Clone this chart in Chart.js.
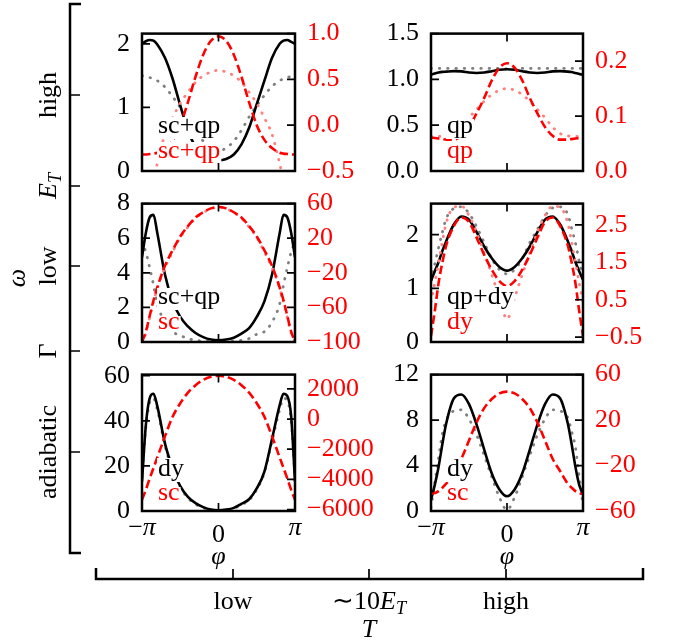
<!DOCTYPE html>
<html><head><meta charset="utf-8">
<script src="https://cdn.jsdelivr.net/npm/chart.js@4.4.1/dist/chart.umd.min.js"></script>
<style>
html,body{margin:0;padding:0;background:#fff;}
#wrap{position:relative;width:680px;height:644px;overflow:hidden;background:#fff;}
#wrap canvas{position:absolute;}
</style></head>
<body><div id="wrap"><canvas id="frame" width="680" height="644" style="left:0;top:0;z-index:0"></canvas></div>
<script>
// ---------- DATA ----------
// phase grid, phi / pi
const U = [-1,-0.95,-0.9,-0.85,-0.8,-0.7,-0.6,-0.5,-0.4,-0.3,-0.2,-0.1,0,0.1,0.2,0.3,0.4,0.5,0.6,0.7,0.8,0.85,0.9,0.95,1];
const xTicks = [-1, 0, 1];            // in units of pi
const xTickLabels = ['−π', '0', 'π'];

// top-left
const tlBlack = [2.0,2.04,2.06,2.05,1.99,1.78,1.45,1.03,0.64,0.38,0.25,0.19,0.17,0.19,0.26,0.42,0.68,1.05,1.42,1.78,2.0,2.05,2.06,2.03,2.0];
const tlGrey  = [1.5,1.49,1.47,1.45,1.42,1.32,1.17,1.0,0.83,0.64,0.47,0.36,0.32,0.36,0.47,0.64,0.85,1.03,1.19,1.33,1.42,1.45,1.47,1.49,1.5];
const tlRed   = [-0.32,-0.32,-0.315,-0.31,-0.3,-0.26,-0.17,0.0,0.25,0.53,0.77,0.92,0.97,0.92,0.77,0.53,0.25,0.0,-0.16,-0.25,-0.3,-0.31,-0.315,-0.32,-0.32];
const tlPink  = [-1.05,-0.95,-0.8,-0.62,-0.42,-0.1,0.08,0.24,0.36,0.47,0.54,0.58,0.6,0.58,0.54,0.47,0.36,0.24,0.08,-0.1,-0.42,-0.62,-0.8,-0.95,-1.05];
// top-right
const trBlack = [1.05,1.065,1.075,1.082,1.085,1.09,1.088,1.075,1.07,1.075,1.09,1.105,1.11,1.105,1.09,1.075,1.07,1.075,1.088,1.09,1.085,1.08,1.07,1.06,1.05];
const trGrey  = [1.12,1.12,1.12,1.12,1.12,1.12,1.12,1.12,1.12,1.12,1.12,1.12,1.115,1.12,1.12,1.12,1.12,1.12,1.12,1.12,1.12,1.12,1.12,1.12,1.12];
const trRed   = [0.061,0.06,0.059,0.058,0.057,0.057,0.064,0.08,0.105,0.133,0.165,0.188,0.196,0.188,0.165,0.133,0.105,0.08,0.064,0.057,0.057,0.058,0.059,0.06,0.061];
const trPink  = [0.063,0.063,0.063,0.063,0.064,0.068,0.08,0.097,0.112,0.127,0.139,0.147,0.15,0.147,0.139,0.127,0.112,0.097,0.08,0.068,0.064,0.063,0.063,0.063,0.063];
// middle-left
const mlBlack = [4.9,6.3,7.2,7.35,6.3,3.9,2.35,1.45,0.9,0.52,0.28,0.14,0.1,0.14,0.25,0.48,0.8,1.45,2.35,3.9,6.3,7.35,7.2,6.3,4.9];
const mlGrey  = [5.8,5.2,4.3,3.3,2.2,1.15,0.6,0.38,0.2,0.1,0.05,0.02,0.01,0.02,0.05,0.1,0.2,0.45,0.6,1.15,2.2,3.3,4.3,5.2,5.8];
const mlRed   = [-100,-88,-70,-52,-37,-12,6,22,34,44,50,54.5,56,54.5,50,44,34,22,6,-12,-37,-52,-70,-88,-100];
const mlPink  = [-101,-90,-72,-54,-38,-14,4,21,33,43,49.5,54,55.5,54,49.5,43,33,21,4,-14,-38,-54,-72,-90,-101];
// middle-right
const mrBlack = [1.14,1.32,1.49,1.7,1.88,2.19,2.34,2.28,2.05,1.78,1.56,1.4,1.33,1.4,1.56,1.78,2.05,2.28,2.34,2.19,1.88,1.7,1.49,1.32,1.16];
const mrGrey  = [1.15,1.45,1.76,2.05,2.3,2.49,2.52,2.4,2.15,1.85,1.55,1.35,1.27,1.35,1.55,1.85,2.1,2.35,2.5,2.52,2.38,2.12,1.85,1.5,1.2];
const mrRed   = [-0.47,0.2,0.95,1.5,1.95,2.47,2.7,2.58,2.16,1.7,1.3,1.0,0.87,1.0,1.3,1.7,2.16,2.58,2.7,2.47,1.95,1.5,0.95,0.2,-0.47];
const mrPink  = [0.44,0.95,1.5,2.05,2.55,2.97,3.0,2.75,2.3,1.75,1.17,0.55,-0.02,0.55,1.17,1.75,2.3,2.75,3.0,2.97,2.55,2.05,1.5,0.95,0.44];
// bottom-left
const blBlack = [13,38,50,52,46.5,30,19,11,6.3,3.5,1.7,0.6,0.3,0.6,1.4,3.2,5.2,10,17.5,32,47,52,51,42,13];
const blGrey  = [15,37,48,50,45,29,18,10.5,5.8,3.0,1.4,0.5,0.2,0.5,1.2,2.8,4.8,9.5,17,31,45,50,49,40,15];
const blRed   = [-5350,-4700,-3950,-3250,-2550,-1150,150,1050,1750,2250,2600,2800,2870,2800,2600,2250,1750,1050,150,-1150,-2550,-3250,-3950,-4700,-5350];
// bottom-right
const brBlack = [1.0,2.3,3.9,5.9,7.7,9.9,10.25,9.4,7.6,5.4,3.3,1.9,1.3,1.9,3.3,5.4,7.6,9.4,10.25,9.9,7.7,5.9,3.9,2.3,1.5];
const brGrey  = [0.3,2.5,4.7,6.8,8.0,8.8,8.9,8.1,6.7,4.9,3.0,1.2,0.1,1.2,3.0,4.9,6.7,8.1,8.9,8.8,8.2,7.0,5.6,3.0,0.5];
const brRed   = [-45,-44.3,-42.5,-39.5,-36,-28,-14,2,18,30.5,38.5,43.5,45,43.5,38.5,30.5,18,2,-14,-25,-36,-39.5,-42.5,-44.3,-45];

// tick values / labels
const tlLeftTicks = [0,1,2],            tlLeftLabels = ['0','1','2'];
const tlRightTicks = [-0.5,0,0.5,1.0],  tlRightLabels = ['−0.5','0.0','0.5','1.0'];
const trLeftTicks = [0,0.5,1,1.5],      trLeftLabels = ['0.0','0.5','1.0','1.5'];
const trRightTicks = [0,0.1,0.2],       trRightLabels = ['0.0','0.1','0.2'];
const mlLeftTicks = [0,2,4,6,8],        mlLeftLabels = ['0','2','4','6','8'];
const mlRightTicks = [-100,-60,-20,20,60], mlRightLabels = ['−100','−60','−20','20','60'];
const mrLeftTicks = [0,1,2],            mrLeftLabels = ['0','1','2'];
const mrRightTicks = [-0.5,0.5,1.5,2.5], mrRightLabels = ['−0.5','0.5','1.5','2.5'];
const blLeftTicks = [0,20,40,60],       blLeftLabels = ['0','20','40','60'];
const blRightTicks = [-6000,-4000,-2000,0,2000], blRightLabels = ['−6000','−4000','−2000','0','2000'];
const brLeftTicks = [0,4,8,12],         brLeftLabels = ['0','4','8','12'];
const brRightTicks = [-60,-20,20,60],   brRightLabels = ['−60','−20','20','60'];

// outer axes labels
const rowLabels = ['high','E_T','low','Γ','adiabatic'];
const colLabels = ['low','∼10E_T','high'];
const outerYLabel = 'ω';
const outerXLabel = 'T';
const phiLabel = 'φ';

// ---------- LAYOUT / STYLE ----------
const FAM = '"Liberation Serif","Times New Roman",serif';
const FS = 26;
const font = (s, it) => (it ? 'italic ' : '') + s + 'px ' + FAM;
const TICK = 8;
const ML = 95, MR = 100, MT = 22, MB = 62;

const panels = [
  {left:142, top:28,  w:153, h:143, yr:[0,2.16],  y2r:[-0.5,1.0], yt:tlLeftTicks, yl:tlLeftLabels, y2t:tlRightTicks, y2l:tlRightLabels,
   s:{black:tlBlack, grey:tlGrey, red:tlRed, pink:tlPink}, txt:['sc+qp','sc+qp'], off:[38,13], bottom:false},
  {left:431, top:28,  w:152, h:143, yr:[0,1.5],   y2r:[0,0.25],   yt:trLeftTicks, yl:trLeftLabels, y2t:trRightTicks, y2l:trRightLabels,
   s:{black:trBlack, grey:trGrey, red:trRed, pink:trPink}, txt:['qp','qp'], off:[38,13], bottom:false},
  {left:142, top:198, w:153, h:144, yr:[0,8],     y2r:[-100,60],  yt:mlLeftTicks, yl:mlLeftLabels, y2t:mlRightTicks, y2l:mlRightLabels,
   s:{black:mlBlack, grey:mlGrey, red:mlRed, pink:mlPink}, txt:['sc+qp','sc'], off:[38,13], bottom:false},
  {left:431, top:198, w:152, h:144, yr:[0,2.58],  y2r:[-0.63,3.07], yt:mrLeftTicks, yl:mrLeftLabels, y2t:mrRightTicks, y2l:mrRightLabels,
   s:{black:mrBlack, grey:mrGrey, red:mrRed, pink:mrPink}, txt:['qp+dy','dy'], off:[38,13], bottom:false},
  {left:142, top:369, w:153, h:142, yr:[0,60.5],  y2r:[-6100,2950], yt:blLeftTicks, yl:blLeftLabels, y2t:blRightTicks, y2l:blRightLabels,
   s:{black:blBlack, grey:blGrey, red:blRed}, txt:['dy','sc'], off:[35,11], bottom:true},
  {left:431, top:369, w:152, h:142, yr:[0,12],    y2r:[-60,60],   yt:brLeftTicks, yl:brLeftLabels, y2t:brRightTicks, y2l:brRightLabels,
   s:{black:brBlack, grey:brGrey, red:brRed}, txt:['dy','sc'], off:[35,11], bottom:true},
];

const STY = {
  grey: {borderColor:'#808080', borderWidth:2.8, borderDash:[0.5,7.8], borderCapStyle:'round', order:4, yAxisID:'y'},
  black:{borderColor:'#000000', borderWidth:2.6, order:3, yAxisID:'y'},
  pink: {borderColor:'#ff8080', borderWidth:2.8, borderDash:[0.5,7.8], borderCapStyle:'round', order:2, yAxisID:'y2'},
  red:  {borderColor:'#ff0000', borderWidth:2.6, borderDash:[8.5,4], order:1, yAxisID:'y2'},
};

function runsOf(str){
  const runs = [];
  const m = str.match(/^(.*?)E_T$/);
  if (m){ if (m[1]) runs.push({t:m[1]}); runs.push({t:'E', it:true}); runs.push({t:'T', it:true, sub:true}); return runs; }
  if (str === 'π' || str === 'φ' || str === 'ω' || str === 'T') return [{t:str, it:true}];
  if (str === '−π') return [{t:'−'},{t:'π', it:true}];
  return [{t:str}];
}
function drawRuns(ctx, runs, cx, by, sz){
  let w = 0;
  const ws = runs.map(r => { ctx.font = font(r.sub ? sz*0.7 : sz, r.it); const m = ctx.measureText(r.t).width; w += m; return m; });
  let x = cx - w/2;
  ctx.textAlign = 'left'; ctx.textBaseline = 'alphabetic';
  runs.forEach((r,i) => { ctx.font = font(r.sub ? sz*0.7 : sz, r.it); ctx.fillText(r.t, x, by + (r.sub ? sz*0.2 : 0)); x += ws[i]; });
}

function decor(p){
  return {
    id:'decor',
    afterDatasetsDraw(chart){
      const {ctx, chartArea:a, scales:{x, y, y2}} = chart;
      ctx.save();
      const cols = ['#000000', '#ff0000'];
      p.txt.forEach((t,i) => {
        ctx.font = font(FS, false);
        const m = ctx.measureText(t);
        const tx = a.left + 16, by = a.bottom - p.off[i];
        ctx.fillStyle = '#fff';
        ctx.fillRect(tx-1, by - m.actualBoundingBoxAscent - 1, m.width + 2, m.actualBoundingBoxAscent + m.actualBoundingBoxDescent + 2);
        ctx.fillStyle = cols[i];
        ctx.textAlign = 'left'; ctx.textBaseline = 'alphabetic';
        ctx.fillText(t, tx, by);
      });
      ctx.strokeStyle = '#000'; ctx.lineWidth = 1.7;
      ctx.beginPath();
      p.yt.forEach(v => { const q = y.getPixelForValue(v); ctx.moveTo(a.left, q); ctx.lineTo(a.left + TICK, q); });
      p.y2t.forEach(v => { const q = y2.getPixelForValue(v); ctx.moveTo(a.right, q); ctx.lineTo(a.right - TICK, q); });
      xTicks.forEach(v => { const q = x.getPixelForValue(v*Math.PI); ctx.moveTo(q, a.top); ctx.lineTo(q, a.top + TICK); ctx.moveTo(q, a.bottom); ctx.lineTo(q, a.bottom - TICK); });
      ctx.stroke();
      ctx.lineWidth = 2.5;
      ctx.strokeRect(a.left, a.top, a.right - a.left, a.bottom - a.top);
      if (p.bottom){
        ctx.fillStyle = '#000';
        xTicks.forEach((v,i) => {
          const q = x.getPixelForValue(v*Math.PI);
          const lab = xTickLabels[i];
          drawRuns(ctx, runsOf(lab), q, a.bottom + (lab === '0' ? 31 : 24), FS);
        });
        drawRuns(ctx, runsOf(phiLabel), x.getPixelForValue(0), a.bottom + 53, FS);
      }
      ctx.restore();
    }
  };
}

function makePanel(p){
  const c = document.createElement('canvas');
  c.width = ML + p.w + MR; c.height = MT + p.h + MB;
  c.style.left = (p.left - ML) + 'px'; c.style.top = (p.top - MT) + 'px'; c.style.zIndex = 1;
  document.getElementById('wrap').appendChild(c);
  const datasets = Object.keys(p.s).map(k => Object.assign({
    data: U.map((u,i) => ({x: u*Math.PI, y: p.s[k][i]})),
    pointRadius: 0, fill: false, tension: 0.4, cubicInterpolationMode: 'monotone', borderJoinStyle: 'round', xAxisID: 'x'
  }, STY[k]));
  const yScale = (rng, ticks, labels, pos, color, width) => ({
    type:'linear', position:pos, min:rng[0], max:rng[1],
    grid:{display:false, drawTicks:false}, border:{display:false},
    afterFit: s => { s.width = width; },
    afterBuildTicks: s => { s.ticks = ticks.map(v => ({value:v})); },
    ticks:{autoSkip:false, padding:12, color:color, font:{family:FAM, size:FS}, callback:(v,i) => labels[i]}
  });
  new Chart(c, {
    type:'line',
    data:{datasets},
    options:{
      responsive:false, animation:false, devicePixelRatio:1, events:[],
      layout:{padding:{top:MT, bottom:MB, left:0, right:0}},
      plugins:{legend:{display:false}, tooltip:{enabled:false}},
      scales:{
        x:{type:'linear', min:-Math.PI, max:Math.PI, display:false},
        y: yScale(p.yr, p.yt, p.yl, 'left', '#000000', ML),
        y2: yScale(p.y2r, p.y2t, p.y2l, 'right', '#ff0000', MR)
      }
    },
    plugins:[decor(p)]
  });
}

function drawFrame(){
  const ctx = document.getElementById('frame').getContext('2d');
  ctx.fillStyle = '#fff'; ctx.fillRect(0,0,680,644);
  const rowY = [95,186,266,351,452];
  const colX = [233,369,506];
  ctx.strokeStyle = '#000'; ctx.lineWidth = 2.5;
  ctx.beginPath();
  ctx.moveTo(81,4); ctx.lineTo(70,4); ctx.lineTo(70,553); ctx.lineTo(81,553);
  ctx.moveTo(96,568); ctx.lineTo(96,579); ctx.lineTo(643,579); ctx.lineTo(643,568);
  ctx.stroke();
  ctx.lineWidth = 1.7;
  ctx.beginPath();
  rowY.forEach(y => { ctx.moveTo(70,y); ctx.lineTo(80,y); });
  colX.forEach(x => { ctx.moveTo(x,579); ctx.lineTo(x,569); });
  ctx.stroke();
  ctx.fillStyle = '#000';
  rowLabels.forEach((l,i) => {
    ctx.save(); ctx.translate(56, rowY[i]); ctx.rotate(-Math.PI/2);
    drawRuns(ctx, runsOf(l), 0, 0, FS); ctx.restore();
  });
  ctx.save(); ctx.translate(25, 278); ctx.rotate(-Math.PI/2);
  drawRuns(ctx, runsOf(outerYLabel), 0, 0, FS); ctx.restore();
  colLabels.forEach((l,i) => drawRuns(ctx, runsOf(l), colX[i], 609, FS));
  drawRuns(ctx, runsOf(outerXLabel), 369, 637, FS);
}

drawFrame();
panels.forEach(makePanel);
</script>
</body></html>
